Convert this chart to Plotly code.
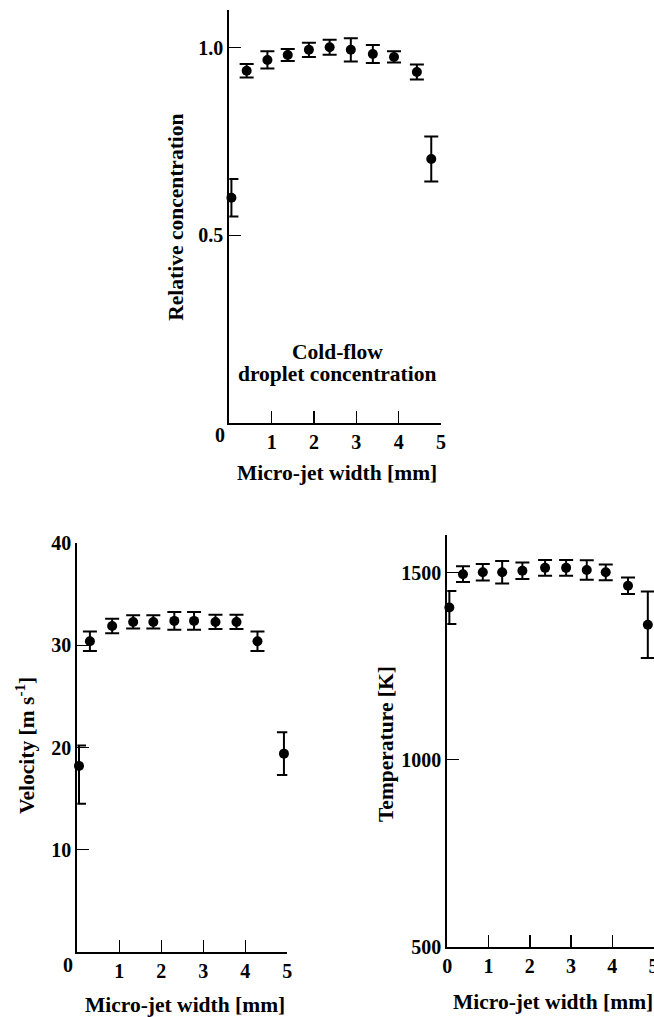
import plotly.graph_objects as go

# ---------------- data ----------------
x_conc = [0.05, 0.41, 0.90, 1.38, 1.88, 2.37, 2.87, 3.39, 3.89, 4.43, 4.77]
conc = [0.60, 0.938, 0.967, 0.980, 0.994, 1.001, 0.994, 0.983, 0.975, 0.935, 0.703]
conc_err = [0.05, 0.018, 0.023, 0.016, 0.019, 0.02, 0.031, 0.024, 0.015, 0.02, 0.06]

x_vel = [0.04, 0.30, 0.83, 1.33, 1.81, 2.31, 2.78, 3.29, 3.79, 4.29, 4.92]
vel = [18.2, 30.4, 31.9, 32.3, 32.3, 32.4, 32.4, 32.3, 32.3, 30.4, 19.4]
vel_err_plus = [2.0, 0.95, 0.7, 0.65, 0.65, 0.87, 0.87, 0.7, 0.7, 0.95, 2.1]
vel_err_minus = [3.7, 0.95, 0.7, 0.65, 0.65, 0.87, 0.87, 0.7, 0.7, 0.95, 2.1]

x_temp = [0.05, 0.38, 0.86, 1.33, 1.82, 2.37, 2.88, 3.38, 3.84, 4.38, 4.86]
temp = [1407, 1496, 1501, 1501, 1505, 1513, 1513, 1507, 1501, 1465, 1361]
temp_err = [44, 21, 22, 30, 22, 21, 21, 26, 21, 22, 89]

x_ticks = [1, 2, 3, 4, 5]
conc_ticks = [0.5, 1.0]
conc_top_tick = [1.1]
vel_ticks = [10, 20, 30, 40]
temp_ticks = [500, 1000, 1500]
temp_top_tick = [1600]

x_title = "Micro-jet width [mm]"

# ---------------- layout helpers ----------------
W, H = 654, 1017
FONT = "Liberation Serif"


def px(x):
    return x / W


def py(y):
    return 1 - y / H


marker = dict(color="black", size=10)


def err(arr, arrminus=None):
    d = dict(type="data", array=arr, color="black", thickness=2, width=7, visible=True)
    if arrminus is not None:
        d["symmetric"] = False
        d["arrayminus"] = arrminus
    return d


fig = go.Figure()
fig.add_trace(go.Scatter(x=x_conc, y=conc, mode="markers", marker=marker,
                         error_y=err(conc_err), xaxis="x", yaxis="y",
                         cliponaxis=False, showlegend=False))
fig.add_trace(go.Scatter(x=x_vel, y=vel, mode="markers", marker=marker,
                         error_y=err(vel_err_plus, vel_err_minus), xaxis="x2", yaxis="y2",
                         cliponaxis=False, showlegend=False))
fig.add_trace(go.Scatter(x=x_temp, y=temp, mode="markers", marker=marker,
                         error_y=err(temp_err), xaxis="x3", yaxis="y3",
                         cliponaxis=False, showlegend=False))

tickfont = dict(family=FONT, size=20, color="black", weight="bold")
common_axis = dict(showline=True, linewidth=2, linecolor="black", ticks="inside",
                   ticklen=12, tickwidth=1.5, tickcolor="black", showgrid=False,
                   zeroline=False, tickfont=tickfont, fixedrange=True,
                   automargin=False, ticklabeloverflow="allow")

minor_top = lambda vals: dict(tickvals=vals, ticks="inside", ticklen=12,
                              tickwidth=1.5, tickcolor="black", showgrid=False)

fig.update_layout(
    width=W, height=H,
    margin=dict(l=0, r=0, t=0, b=0, pad=0),
    paper_bgcolor="white", plot_bgcolor="white",
    font=dict(family=FONT, color="black"),
    xaxis=dict(domain=[px(229.3), px(441)], range=[0, 5], anchor="y",
               tickvals=x_ticks, **common_axis),
    yaxis=dict(domain=[py(423), py(10)], range=[0, 1.1], anchor="x",
               tickvals=conc_ticks, ticktext=["0.5", "1.0"],
               minor=minor_top(conc_top_tick), **common_axis),
    xaxis2=dict(domain=[px(77.3), px(287.3)], range=[0, 5], anchor="y2",
                tickvals=x_ticks, **common_axis),
    yaxis2=dict(domain=[py(951.7), py(543.3)], range=[0, 40], anchor="x2",
                tickvals=vel_ticks, **common_axis),
    xaxis3=dict(domain=[px(447.3), 1.0], range=[0, 5.01], anchor="y3",
                tickvals=[0] + x_ticks, **common_axis),
    yaxis3=dict(domain=[py(946.7), py(535.3)], range=[500, 1600], anchor="x3",
                tickvals=temp_ticks, minor=minor_top(temp_top_tick), **common_axis),
)

tfont = dict(family=FONT, size=21.5, color="black", weight="bold")
annots = [
    # top chart
    dict(x=px(176), y=py(216.7), text="Relative concentration", textangle=-90),
    dict(x=px(336.7), y=py(473.3), text=x_title),
    dict(x=px(337), y=py(351.7), text="Cold-flow"),
    dict(x=px(337), y=py(374), text="droplet concentration"),
    dict(x=px(220), y=py(435), text="0", font=tickfont),
    # bottom-left
    dict(x=px(25), y=py(746), text="Velocity [m s<sup>-1</sup>]", textangle=-90),
    dict(x=px(185), y=py(1005), text=x_title),
    dict(x=px(68), y=py(965), text="0", font=tickfont),
    # bottom-right
    dict(x=px(386), y=py(744), text="Temperature [K]", textangle=-90),
    dict(x=px(552.5), y=py(1001.7), text=x_title),
]
for a in annots:
    a.setdefault("font", tfont)
    fig.add_annotation(xref="paper", yref="paper", showarrow=False,
                       xanchor="center", yanchor="middle", **a)

fig.write_html("out.html",
               config={"displayModeBar": False, "staticPlot": True},
               post_script="document.body.style.margin='0px';"
                           "document.body.style.overflow='hidden';")
